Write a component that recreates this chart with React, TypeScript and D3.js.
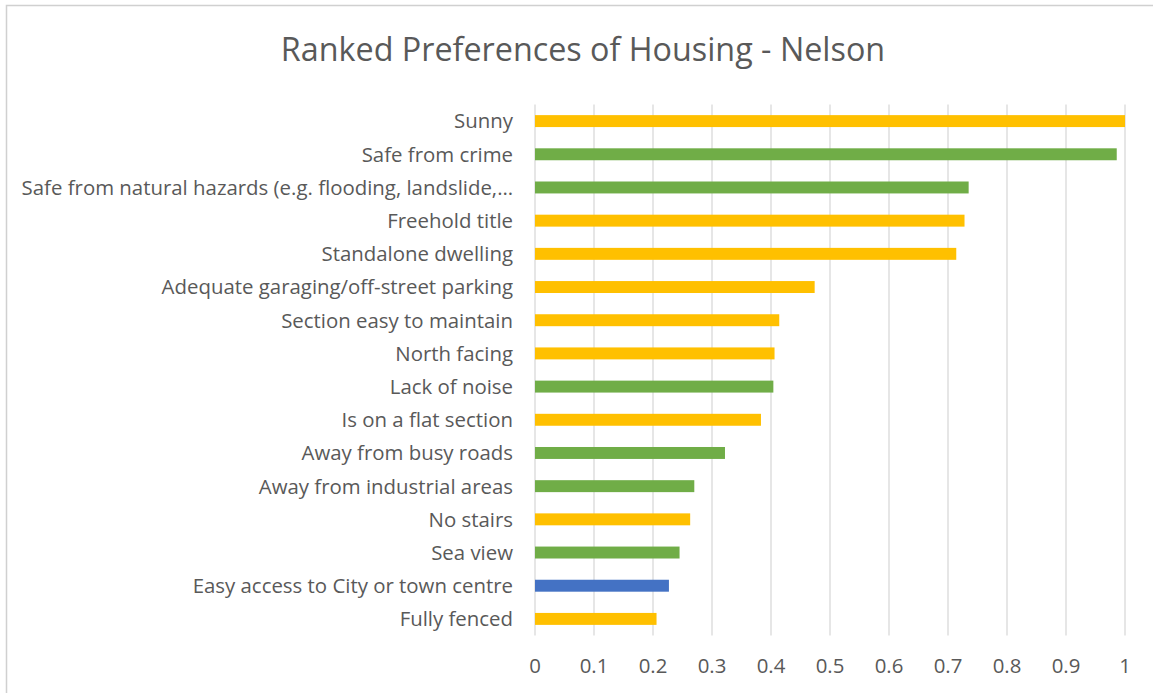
import React, { useEffect, useRef } from 'react';
import * as d3 from 'd3';

const title = 'Ranked Preferences of Housing - Nelson';

const categories = [
  'Sunny',
  'Safe from crime',
  'Safe from natural hazards (e.g. flooding, landslide,…',
  'Freehold title',
  'Standalone dwelling',
  'Adequate garaging/off-street parking',
  'Section easy to maintain',
  'North facing',
  'Lack of noise',
  'Is on a flat section',
  'Away from busy roads',
  'Away from industrial areas',
  'No stairs',
  'Sea view',
  'Easy access to City or town centre',
  'Fully fenced',
];

const values = [1.0, 0.986, 0.735, 0.728, 0.714, 0.474, 0.414, 0.406, 0.404, 0.383, 0.322, 0.27, 0.263, 0.245, 0.227, 0.206];

// grupo de cada barra (define a cor)
const groups = ['house', 'env', 'env', 'house', 'house', 'house', 'house', 'house', 'env', 'house', 'env', 'env', 'house', 'env', 'access', 'house'];

const ticks = [0, 0.1, 0.2, 0.3, 0.4, 0.5, 0.6, 0.7, 0.8, 0.9, 1];

const colors: Record<string, string> = { house: '#FFC000', env: '#70AD47', access: '#4472C4' };

const W = 1153;
const H = 693;
const FONT = '"Open Sans", Lato, sans-serif';

const Chart: React.FC = () => {
  const svgRef = useRef<SVGSVGElement | null>(null);

  useEffect(() => {
    const svg = d3.select(svgRef.current);
    svg.selectAll('*').remove();

    const margin = { top: 104.5, right: 28, bottom: 57.5, left: 535 };

    const x = d3.scaleLinear().domain([0, 1]).range([margin.left, W - margin.right]);
    const y = d3
      .scaleBand<string>()
      .domain(categories)
      .range([margin.top, H - margin.bottom])
      .paddingInner(0.64)
      .paddingOuter(0.32);

    // borda do gráfico (só esquerda e topo aparecem)
    svg
      .append('path')
      .attr('d', `M6.5,${H}V5.5H${W}`)
      .attr('fill', 'none')
      .attr('stroke', '#D0D0D0')
      .attr('stroke-width', 1.5);

    svg
      .append('text')
      .attr('x', 583)
      .attr('y', 61)
      .attr('text-anchor', 'middle')
      .attr('font-family', FONT)
      .attr('font-size', 32.3)
      .attr('fill', '#595959')
      .text(title);

    // linhas de grade
    svg
      .append('g')
      .selectAll('line')
      .data(ticks)
      .join('line')
      .attr('x1', (d) => x(d))
      .attr('x2', (d) => x(d))
      .attr('y1', margin.top)
      .attr('y2', H - margin.bottom)
      .attr('stroke', '#D9D9D9')
      .attr('stroke-width', 1.3);

    svg
      .append('g')
      .selectAll('rect')
      .data(values)
      .join('rect')
      .attr('x', x(0))
      .attr('y', (_, i) => y(categories[i]) as number)
      .attr('width', (d) => x(d) - x(0))
      .attr('height', y.bandwidth())
      .attr('fill', (_, i) => colors[groups[i]]);

    // rótulos das categorias
    svg
      .append('g')
      .selectAll('text')
      .data(categories)
      .join('text')
      .attr('x', 513)
      .attr('y', (d) => (y(d) as number) + y.bandwidth() / 2)
      .attr('dy', '0.36em')
      .attr('text-anchor', 'end')
      .attr('font-family', FONT)
      .attr('font-size', 20.4)
      .attr('fill', '#595959')
      .text((d) => d);

    // eixo X
    svg
      .append('g')
      .selectAll('text')
      .data(ticks)
      .join('text')
      .attr('x', (d) => x(d))
      .attr('y', 673)
      .attr('text-anchor', 'middle')
      .attr('font-family', FONT)
      .attr('font-size', 20.4)
      .attr('fill', '#595959')
      .text((d) => d3.format('')(d));
  }, []);

  return (
    <svg
      ref={svgRef}
      width={W}
      height={H}
      style={{ display: 'block', position: 'absolute', left: 0, top: 0, background: '#fff' }}
    ></svg>
  );
};

export default function App() {
  return <Chart />;
}
